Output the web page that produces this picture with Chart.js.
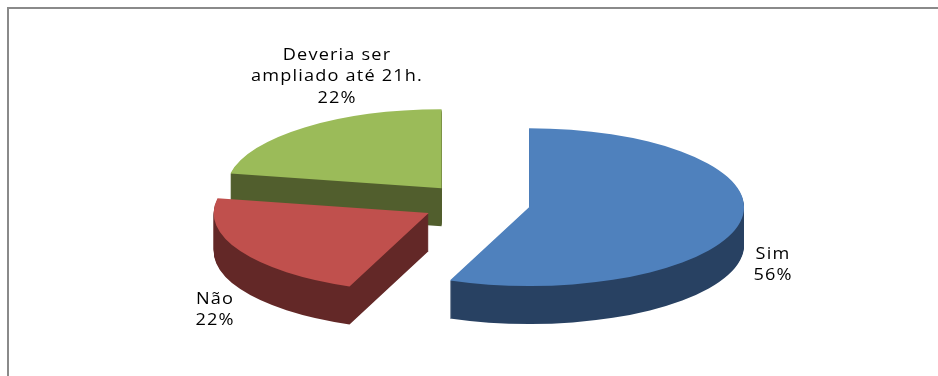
<!DOCTYPE html>
<html>
<head>
<meta charset="utf-8">
<title>Pesquisa</title>
<script src="https://cdn.jsdelivr.net/npm/chart.js@4/dist/chart.umd.min.js"></script>
<style>
  html, body { margin: 0; padding: 0; background: #fff; overflow: hidden; }
  #frame { position: absolute; left: 7px; top: 7px; right: 0; bottom: 0; border-top: 2px solid #8a8a8a; border-left: 2px solid #8a8a8a; }
  #pie { position: absolute; left: 0; top: 0; }
</style>
</head>
<body>
<div id="frame"></div>
<canvas id="pie" width="938" height="376"></canvas>
<script>
// ===== DATOS =====
var categories = ['Sim', 'Não', 'Deveria ser\nampliado até 21h.'];
var shares = [56, 22, 22];

// ===== ESTILO =====
var topColors = ['#4f81bd', '#c0504d', '#9bbb59'];
var wallColors = ['#284162', '#632827', '#515e2d'];
var labelCenters = [[773, 254.5], [215, 299.5], [337, 55.5]];
var TILT = 0.367;
var DEPTH = 38;
var EXPLODE = 54;
var LINE_HEIGHT = 21.5;
var TEXT_STRETCH = 1.17;

// Draws one arc element, pushed along its mid angle and squashed into an ellipse
function paintArc(ctx, arc, color, drop) {
  var mid = (arc.startAngle + arc.endAngle) / 2;
  var saved = arc.options;
  ctx.save();
  ctx.translate(Math.cos(mid) * EXPLODE, arc.y + Math.sin(mid) * EXPLODE * TILT + drop);
  ctx.scale(1, TILT);
  ctx.translate(0, -arc.y);
  arc.options = Object.assign({}, saved, { backgroundColor: color });
  arc.draw(ctx);
  arc.options = saved;
  ctx.restore();
}

// Walls are stacked on a helper canvas and recoloured once, so the edges don't band
var wallLayer = document.createElement('canvas');
wallLayer.width = 938;
wallLayer.height = 376;

function paintWall(ctx, arc, color) {
  var wctx = wallLayer.getContext('2d');
  wctx.globalCompositeOperation = 'source-over';
  wctx.clearRect(0, 0, wallLayer.width, wallLayer.height);
  for (var d = DEPTH; d >= 1; d--) paintArc(wctx, arc, '#000', d);
  wctx.globalCompositeOperation = 'source-in';
  wctx.fillStyle = color;
  wctx.fillRect(0, 0, wallLayer.width, wallLayer.height);
  ctx.drawImage(wallLayer, 0, 0);
}

var tiltedPie = {
  id: 'tiltedPie',
  beforeDatasetsDraw: function(chart) {
    var ctx = chart.ctx;
    var arcs = chart.getDatasetMeta(0).data;
    for (var i = arcs.length - 1; i >= 0; i--) {
      paintWall(ctx, arcs[i], wallColors[i]);
      paintArc(ctx, arcs[i], topColors[i], 0);
    }
    return false;
  },
  afterDraw: function(chart) {
    var ctx = chart.ctx;
    ctx.fillStyle = '#000';
    ctx.font = '15.5px "Open Sans"';
    ctx.letterSpacing = '1px';
    ctx.textAlign = 'center';
    ctx.textBaseline = 'middle';
    categories.forEach(function(cat, i) {
      var lines = cat.split('\n').concat(shares[i] + '%');
      lines.forEach(function(line, n) {
        ctx.save();
        ctx.translate(labelCenters[i][0], labelCenters[i][1] + n * LINE_HEIGHT);
        ctx.scale(TEXT_STRETCH, 1);
        ctx.fillText(line, 0, 0);
        ctx.restore();
      });
    });
  }
};

// ===== GRÁFICA =====
new Chart(document.getElementById('pie'), {
  type: 'pie',
  data: {
    labels: categories,
    datasets: [{
      data: shares,
      backgroundColor: topColors,
      borderWidth: 0,
      radius: 215
    }]
  },
  options: {
    responsive: false,
    animation: false,
    layout: { padding: { left: 14, top: 31 } },
    plugins: { legend: { display: false }, tooltip: { enabled: false } }
  },
  plugins: [tiltedPie]
});
</script>
</body>
</html>
